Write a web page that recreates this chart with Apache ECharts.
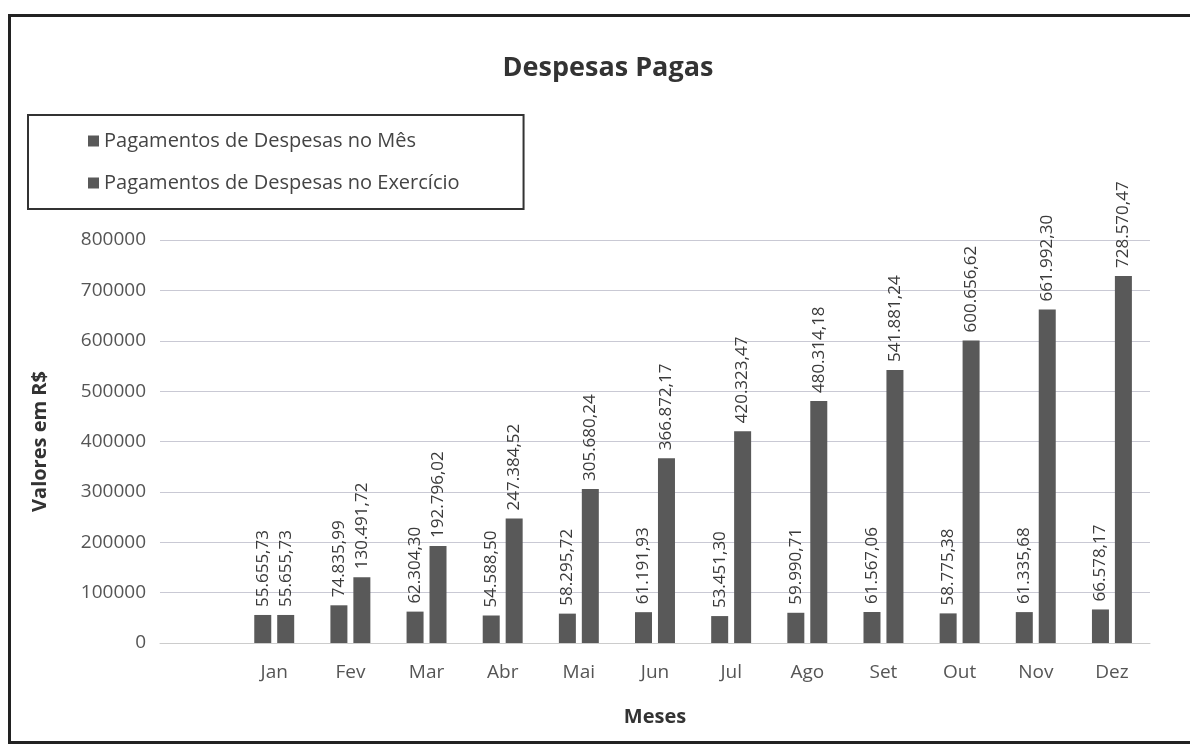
<!DOCTYPE html>
<html>
<head>
<meta charset="utf-8">
<script src="https://cdn.jsdelivr.net/npm/echarts@6/dist/echarts.min.js"></script>
<style>
  html, body { margin: 0; padding: 0; background: #fff; }
  #frame { position: absolute; left: 8px; top: 14px; width: 1200px; height: 730px; border: 3px solid #222; box-sizing: border-box; }
  #chart { width: 1190px; height: 750px; }
</style>
</head>
<body>
<div id="frame"></div>
<div id="chart"></div>
<script>
// first slot is empty in the original chart
const meses = ['', 'Jan', 'Fev', 'Mar', 'Abr', 'Mai', 'Jun', 'Jul', 'Ago', 'Set', 'Out', 'Nov', 'Dez'];
const pagMes = [null, 55655.73, 74835.99, 62304.30, 54588.50, 58295.72, 61191.93, 53451.30, 59990.71, 61567.06, 58775.38, 61335.68, 66578.17];
const pagExercicio = [null, 55655.73, 130491.72, 192796.02, 247384.52, 305680.24, 366872.17, 420323.47, 480314.18, 541881.24, 600656.62, 661992.30, 728570.47];

const fmtBR = (v) => {
  const [int, dec] = Number(v).toFixed(2).split('.');
  return int.replace(/\B(?=(\d{3})+(?!\d))/g, '.') + ',' + dec;
};

const font = 'Open Sans, Liberation Sans, sans-serif';
const labelOpt = {
  show: true,
  position: 'top',
  rotate: 90,
  align: 'left',
  verticalAlign: 'middle',
  distance: 8,
  fontFamily: font,
  fontSize: 17,
  color: '#3a3a3a',
  formatter: (p) => fmtBR(p.value),
};

const chart = echarts.init(document.getElementById('chart'));
chart.setOption({
  animation: false,
  textStyle: { fontFamily: font },
  title: {
    text: 'Despesas Pagas',
    left: 603,
    top: 50,
    textAlign: 'center',
    textStyle: { fontSize: 27, fontWeight: 'bold', color: '#333', fontFamily: font },
  },
  legend: {
    orient: 'vertical',
    left: 28,
    top: 115,
    padding: [16, 64, 16, 60],
    itemGap: 22,
    itemWidth: 11,
    itemHeight: 11,
    icon: 'rect',
    borderColor: '#333',
    borderWidth: 2,
    textStyle: { fontSize: 20, color: '#444', fontFamily: font },
    data: ['Pagamentos de Despesas no Mês', 'Pagamentos de Despesas no Exercício'],
  },
  grid: { left: 160, right: 40, top: 240, bottom: 107 },
  xAxis: {
    type: 'category',
    data: meses,
    name: 'Meses',
    nameLocation: 'middle',
    nameGap: 64,
    nameTextStyle: { fontSize: 20, fontWeight: 'bold', color: '#333', fontFamily: font },
    axisTick: { show: false },
    axisLine: { lineStyle: { color: '#ccc' } },
    axisLabel: { fontSize: 19, color: '#555', margin: 20, fontFamily: font },
  },
  yAxis: {
    type: 'value',
    min: 0,
    max: 800000,
    interval: 100000,
    name: 'Valores em R$',
    nameLocation: 'middle',
    nameGap: 110,
    nameTextStyle: { fontSize: 20, fontWeight: 'bold', color: '#333', fontFamily: font },
    axisLabel: { fontSize: 19, color: '#555', margin: 14, fontFamily: font, formatter: (v) => String(v) },
    splitLine: { lineStyle: { color: '#c9c9d4' } },
  },
  series: [
    {
      name: 'Pagamentos de Despesas no Mês',
      type: 'bar',
      data: pagMes,
      barWidth: 17,
      barGap: '35%',
      itemStyle: { color: '#595959' },
      label: labelOpt,
    },
    {
      name: 'Pagamentos de Despesas no Exercício',
      type: 'bar',
      data: pagExercicio,
      barWidth: 17,
      barGap: '35%',
      itemStyle: { color: '#595959' },
      label: labelOpt,
    },
  ],
});
</script>
</body>
</html>
